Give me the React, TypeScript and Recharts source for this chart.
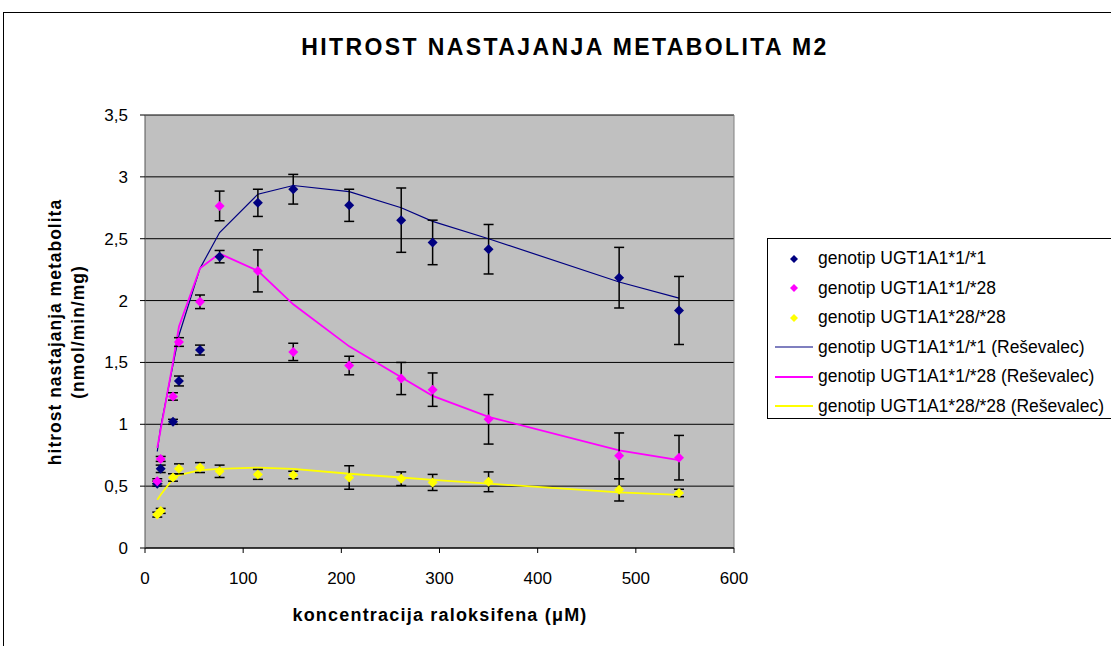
import React from "react"
import { ComposedChart, Line, Scatter, ErrorBar, XAxis, YAxis, CartesianGrid, ReferenceLine } from "recharts"

// koncentracija raloksifena (µM)
const conc = [12.5, 16, 28.5, 34.6, 56, 76, 115, 151, 208, 261, 293, 350, 483, 544]

// izmerjene vrednosti (nmol/min/mg) in standardni odkloni
const g11 = [0.52, 0.64, 1.02, 1.35, 1.6, 2.355, 2.79, 2.9, 2.77, 2.65, 2.47, 2.415, 2.185, 1.92]
const g11Err = [0.02, 0.03, 0.02, 0.04, 0.04, 0.05, 0.11, 0.12, 0.13, 0.26, 0.18, 0.2, 0.245, 0.275]
const g128 = [0.54, 0.72, 1.225, 1.665, 1.99, 2.765, 2.24, 1.585, 1.475, 1.37, 1.28, 1.04, 0.745, 0.73]
const g128Err = [0.02, 0.02, 0.03, 0.035, 0.055, 0.12, 0.17, 0.07, 0.075, 0.13, 0.135, 0.2, 0.185, 0.18]
const g2828 = [0.27, 0.3, 0.57, 0.64, 0.65, 0.62, 0.595, 0.59, 0.57, 0.56, 0.53, 0.535, 0.47, 0.445]
const g2828Err = [0.02, 0.02, 0.03, 0.04, 0.04, 0.05, 0.04, 0.03, 0.095, 0.055, 0.065, 0.08, 0.09, 0.03]

// krivulje iz Reševalca
const fit11 = [0.78, 0.98, 1.48, 1.72, 2.26, 2.55, 2.86, 2.93, 2.88, 2.75, 2.64, 2.5, 2.15, 2.02]
const fit128 = [0.81, 0.96, 1.5, 1.79, 2.26, 2.38, 2.24, 1.97, 1.63, 1.38, 1.23, 1.06, 0.79, 0.71]
const fit2828 = [0.39, 0.43, 0.56, 0.59, 0.63, 0.64, 0.65, 0.64, 0.6, 0.57, 0.55, 0.52, 0.45, 0.43]

const xTicks = [0, 100, 200, 300, 400, 500, 600]
const yTicks = [0, 0.5, 1, 1.5, 2, 2.5, 3, 3.5]

const rows = conc.map((x, i) => ({
  x,
  g11: g11[i],
  g11Err: g11Err[i],
  g128: g128[i],
  g128Err: g128Err[i],
  g2828: g2828[i],
  g2828Err: g2828Err[i],
  fit11: fit11[i],
  fit128: fit128[i],
  fit2828: fit2828[i],
}))

const NAVY = "#000080"
const MAGENTA = "#FF00FF"
const YELLOW = "#FFFF00"

const legendItems = [
  { name: "genotip UGT1A1*1/*1", color: NAVY, kind: "dot" },
  { name: "genotip UGT1A1*1/*28", color: MAGENTA, kind: "dot" },
  { name: "genotip UGT1A1*28/*28", color: YELLOW, kind: "dot" },
  { name: "genotip UGT1A1*1/*1 (Reševalec)", color: NAVY, kind: "line" },
  { name: "genotip UGT1A1*1/*28 (Reševalec)", color: MAGENTA, kind: "line" },
  { name: "genotip UGT1A1*28/*28 (Reševalec)", color: YELLOW, kind: "line" },
]

const Diamond = (props: any) => {
  const { cx, cy, fill } = props
  if (cx == null || cy == null) return null
  const r = 5
  return <polygon points={`${cx},${cy - r} ${cx + r},${cy} ${cx},${cy + r} ${cx - r},${cy}`} fill={fill} />
}

const font = "'Liberation Sans', Arial, sans-serif"
const tickStyle = { fill: "#000", fontSize: 17, fontFamily: font }

export default function App() {
  return (
    <div
      style={{
        position: "absolute",
        left: 0,
        top: 0,
        width: 1111,
        height: 646,
        overflow: "hidden",
        background: "#fff",
        fontFamily: font,
        color: "#000",
      }}
    >
      <div style={{ position: "absolute", left: 3, top: 12, width: 1200, height: 800, border: "1px solid #000" }} />

      <div
        style={{
          position: "absolute",
          left: 165,
          top: 32,
          width: 800,
          textAlign: "center",
          fontSize: 23,
          fontWeight: "bold",
          lineHeight: "30px",
          letterSpacing: 2.4,
        }}
      >
        HITROST NASTAJANJA METABOLITA M2
      </div>

      <div style={{ position: "absolute", left: 0, top: 0 }}>
        <ComposedChart width={1111} height={646} data={rows} margin={{ top: 115, right: 377, bottom: 68, left: 85 }}>
          <CartesianGrid vertical={false} horizontal stroke="#000" fill="#C0C0C0" fillOpacity={1} />
          <XAxis
            dataKey="x"
            type="number"
            domain={[0, 600]}
            ticks={xTicks}
            interval={0}
            height={30}
            tickSize={5}
            tickMargin={19}
            tick={tickStyle}
            axisLine={{ stroke: "#000" }}
            tickLine={{ stroke: "#000" }}
          />
          <YAxis
            type="number"
            domain={[0, 3.5]}
            ticks={yTicks}
            interval={0}
            width={60}
            tickSize={5}
            tickMargin={12}
            tick={tickStyle}
            tickFormatter={(v: number) => String(v).replace(".", ",")}
            axisLine={{ stroke: "#555" }}
            tickLine={{ stroke: "#000" }}
          />
          <ReferenceLine x={600} stroke="#808080" strokeWidth={1} />
          <Line dataKey="fit11" stroke={NAVY} strokeWidth={1.2} dot={false} type="linear" isAnimationActive={false} />
          <Line dataKey="fit128" stroke={MAGENTA} strokeWidth={1.8} dot={false} type="linear" isAnimationActive={false} />
          <Line dataKey="fit2828" stroke={YELLOW} strokeWidth={1.8} dot={false} type="linear" isAnimationActive={false} />
          <Scatter dataKey="g11" fill={NAVY} shape={<Diamond />} isAnimationActive={false}>
            <ErrorBar dataKey="g11Err" direction="y" width={5} stroke="#000" strokeWidth={1.5} />
          </Scatter>
          <Scatter dataKey="g128" fill={MAGENTA} shape={<Diamond />} isAnimationActive={false}>
            <ErrorBar dataKey="g128Err" direction="y" width={5} stroke="#000" strokeWidth={1.5} />
          </Scatter>
          <Scatter dataKey="g2828" fill={YELLOW} shape={<Diamond />} isAnimationActive={false}>
            <ErrorBar dataKey="g2828Err" direction="y" width={5} stroke="#000" strokeWidth={1.5} />
          </Scatter>
        </ComposedChart>
      </div>

      <div
        style={{
          position: "absolute",
          left: -101,
          top: 307,
          width: 340,
          height: 50,
          transform: "rotate(-90deg)",
          textAlign: "center",
          fontSize: 17.5,
          fontWeight: "bold",
          lineHeight: "23px",
          letterSpacing: 1,
        }}
      >
        <div>hitrost nastajanja metabolita</div>
        <div>(nmol/min/mg)</div>
      </div>

      <div
        style={{
          position: "absolute",
          left: 190,
          top: 605,
          width: 500,
          textAlign: "center",
          fontSize: 18,
          fontWeight: "bold",
          letterSpacing: 1.2,
        }}
      >
        koncentracija raloksifena (μM)
      </div>

      <div
        style={{
          position: "absolute",
          left: 767,
          top: 238,
          width: 360,
          height: 181,
          border: "1px solid #000",
          background: "#fff",
          boxSizing: "border-box",
          paddingTop: 5,
        }}
      >
        {legendItems.map((it) => (
          <div key={it.name} style={{ display: "flex", alignItems: "center", height: 29.5, fontSize: 17.5 }}>
            <svg width={50} height={16} style={{ flex: "none" }}>
              {it.kind === "dot" ? (
                <polygon points="26,4 30,8 26,12 22,8" fill={it.color} />
              ) : (
                <line x1={7} x2={45} y1={8} y2={8} stroke={it.color} strokeWidth={it.color === NAVY ? 1.2 : 1.8} />
              )}
            </svg>
            <span style={{ whiteSpace: "nowrap" }}>{it.name}</span>
          </div>
        ))}
      </div>
    </div>
  )
}
